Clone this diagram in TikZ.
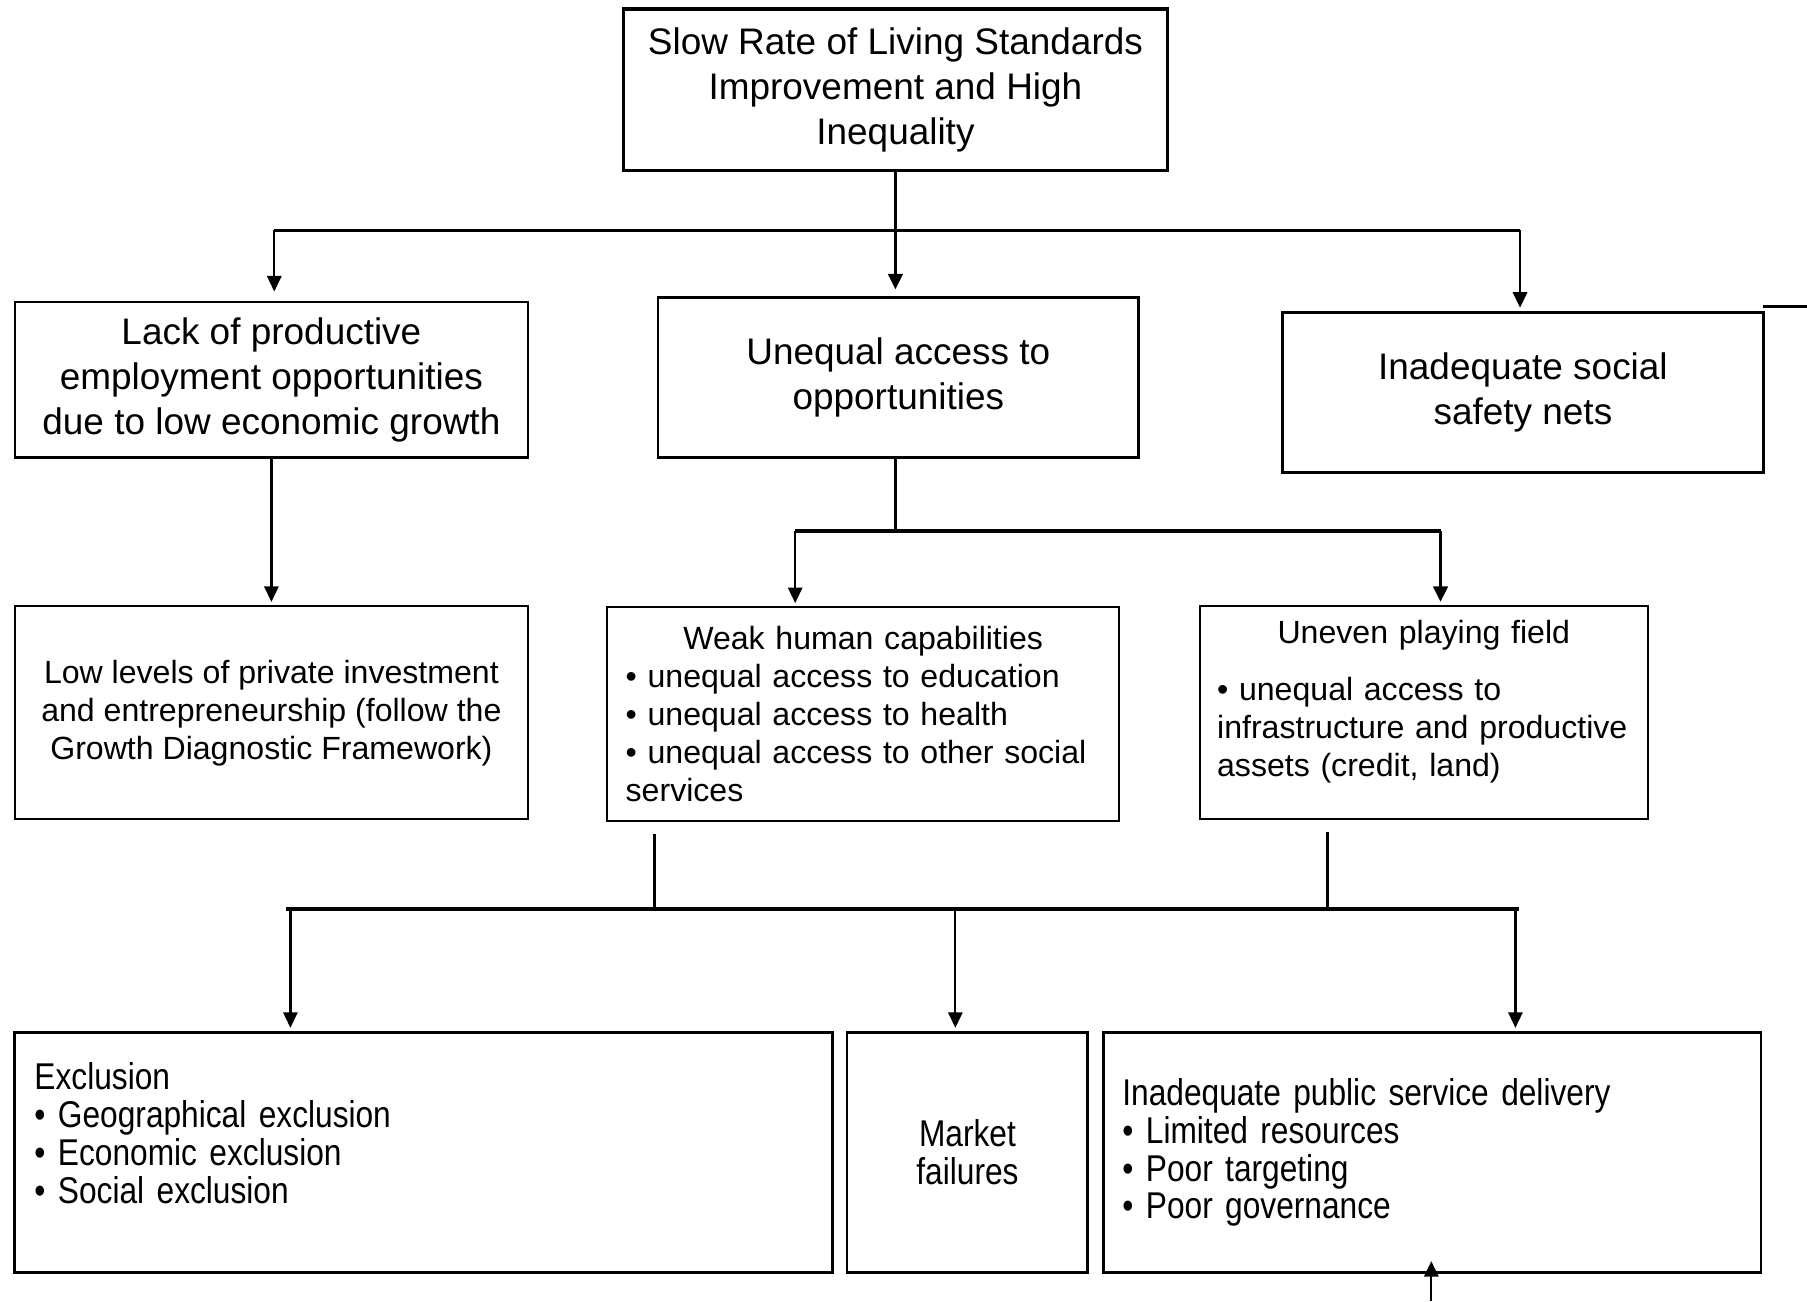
\documentclass[tikz,border=0pt]{standalone}
\usepackage{fontspec}
\setmainfont{Liberation Sans}
\newfontfamily\narrowfont{Liberation Sans}[FakeStretch=0.85]
\usepackage{tikz}
\usetikzlibrary{arrows.meta}
\setlength{\parindent}{0pt}

\begin{document}
\begin{tikzpicture}[x=0.0125cm, y=-0.0125cm,
  cause/.style={rectangle, draw=black, line width=0.8pt, inner sep=0pt, align=center, font=\fontsize{11.4}{13.8}\selectfont},
  factor/.style={rectangle, draw=black, line width=0.6pt, inner sep=0pt, minimum height=2.3125cm, font=\fontsize{9.9}{11.7}\selectfont},
  driver/.style={rectangle, draw=black, line width=0.9pt, inner sep=0pt, minimum height=2.6cm, font=\narrowfont\fontsize{11.5}{11.7}\selectfont},
  link/.style={draw, line width=0.7pt, -{Triangle[length=4.8pt, width=4.4pt]}, shorten >=1pt},
  stem/.style={draw, line width=0.7pt},
  heavy/.style={line width=1.1pt}]
\useasboundingbox (0,0) rectangle (1568,1129);

\node[cause, line width=1.1pt, minimum width=5.9cm, minimum height=1.75cm] (top) at (777,78)
  {Slow Rate of Living Standards\\Improvement and High\\Inequality};

\node[cause, minimum width=5.5625cm, minimum height=1.6875cm] (lack) at (235.5,329.5)
  {Lack of productive\\employment opportunities\\due to low economic growth};
\node[cause, minimum width=5.2125cm, minimum height=1.7375cm] (unequal) at (779.5,327.5)
  {Unequal access to\\opportunities};
\node[cause, minimum width=5.2125cm, minimum height=1.7375cm] (safety) at (1321.5,340.5)
  {Inadequate social\\safety nets};

\node[factor, align=center, minimum width=5.5625cm] (low) at (235.5,618.5)
  {Low levels of private investment\\and entrepreneurship (follow the\\Growth Diagnostic Framework)};
\node[factor, align=left, text width=5.15cm, inner xsep=0.2cm] (weak) at (749,619.5)
  {\hfill Weak human capabilities\hfill\mbox{}\\
   • unequal access to education\\
   • unequal access to health\\
   • unequal access to other social\\
   services};
\node[factor, align=left, text width=4.4825cm, inner xsep=0.19cm, text depth=50pt] (uneven) at (1235.5,618.5)
  {\hfill Uneven playing field\hfill\mbox{}\\[6pt]
   • unequal access to\\
   infrastructure and productive\\
   assets (credit, land)};

\node[driver, align=left, text width=8.4375cm, inner xsep=0.2125cm, text depth=47pt] (exclusion) at (367.5,1000)
  {Exclusion\\
   • Geographical exclusion\\
   • Economic exclusion\\
   • Social exclusion};
\node[driver, align=center, minimum width=2.6125cm] (market) at (839.5,1000)
  {Market\\failures};
\node[driver, align=left, text width=6.725cm, inner xsep=0.2cm] (public) at (1243,1000)
  {Inadequate public service delivery\\
   • Limited resources\\
   • Poor targeting\\
   • Poor governance};

\coordinate (jL) at (238,200);
\coordinate (jR) at (1319,200);
\coordinate (busB) at (777,461);
\coordinate (jW) at (690,461);
\coordinate (jU) at (1250,461);
\coordinate (kW) at (568,789);
\coordinate (kU) at (1152,789);
\coordinate (kL) at (248,789);
\coordinate (kR) at (1318,789);
\coordinate (dX) at (252,789);
\coordinate (dM) at (829,789);
\coordinate (dP) at (1315,789);
\coordinate (stubL) at (1530,266);
\coordinate (stubR) at (1568,266);
\coordinate (feed) at (1242,1129);

\draw[link, heavy, shorten >=2pt] (top.south) -- (top.south |- unequal.north);
\draw[stem, heavy] (jL) -- (jR);
\draw[link, shorten >=2.8pt] (jL) -- (jL |- lack.north);
\draw[link] (jR) -- (jR |- safety.north);
\draw[link] (lack.south) -- (low.north);

\draw[stem, heavy] (busB |- unequal.south) -- (busB);
\draw[stem, heavy] (jW) -- (jU);
\draw[link] (jW) -- (jW |- weak.north);
\draw[link, heavy] (jU) -- (jU |- uneven.north);

\draw[stem, shorten <=3.9pt] (kW |- weak.south) -- (kW);
\draw[stem, shorten <=3.5pt] (kU |- uneven.south) -- (kU);
\draw[stem, heavy] (kL) -- (kR);
\draw[link] (dX) -- (dX |- exclusion.north);
\draw[link] (dM) -- (dM |- market.north);
\draw[link] (dP) -- (dP |- public.north);

\draw[stem, heavy] (stubL) -- (stubR);
\draw[link, shorten >=-3.9pt] (feed) -- (feed |- public.south);
\end{tikzpicture}
\end{document}
